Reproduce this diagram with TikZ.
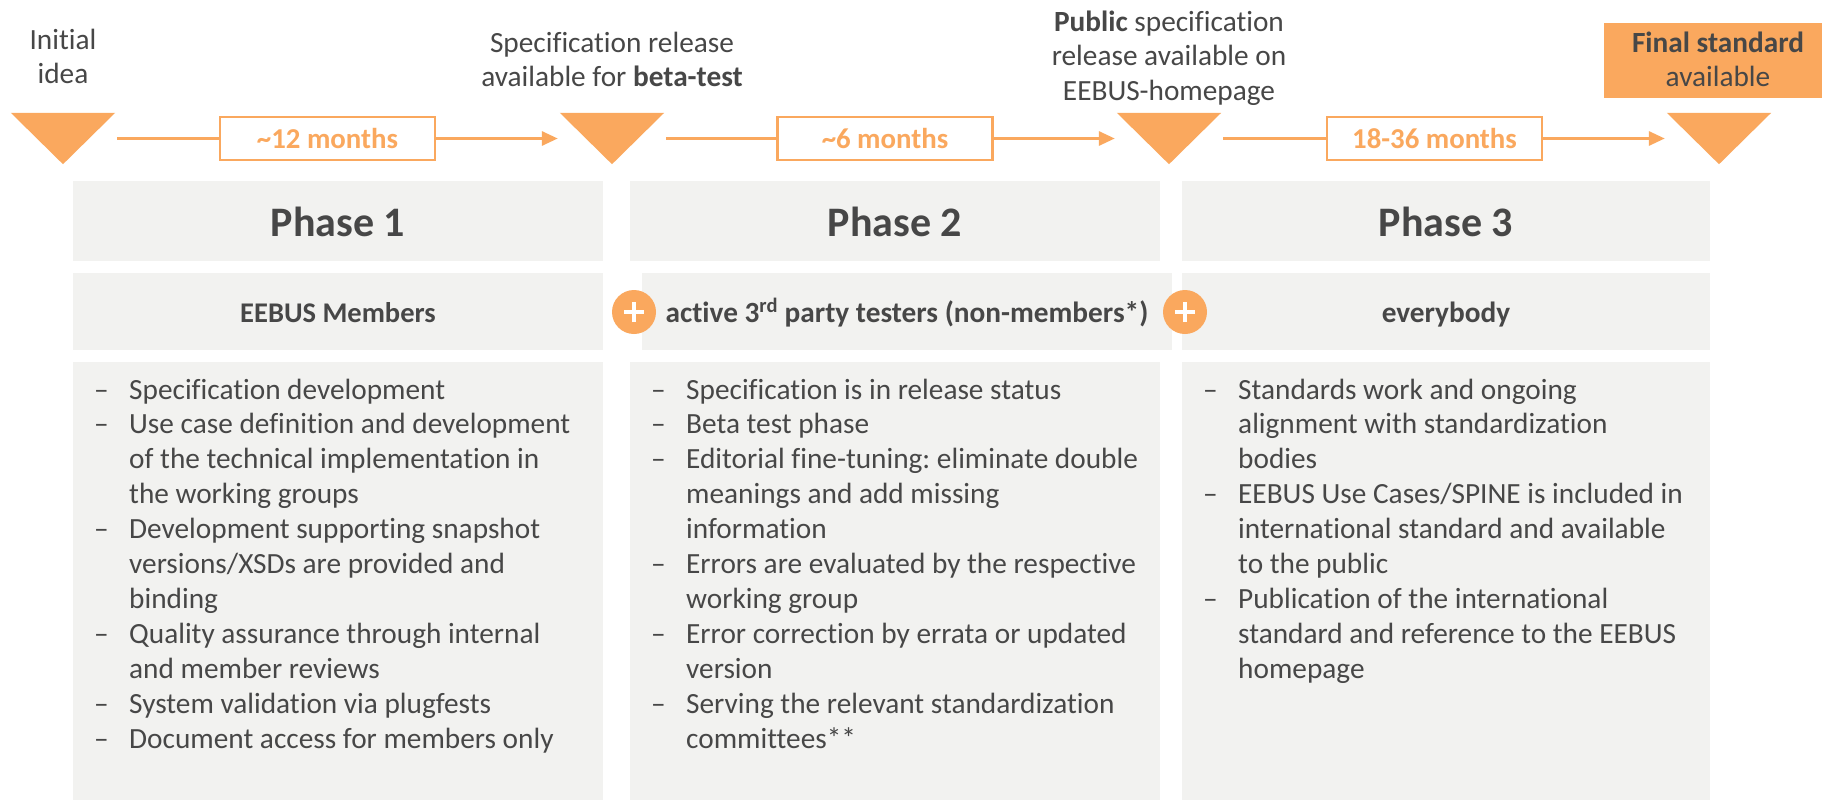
\documentclass[tikz,border=0pt]{standalone}
\usepackage{fontspec}
\setmainfont{Carlito}[Ligatures={NoCommon}]
\usetikzlibrary{arrows.meta}
\definecolor{eeorange}{HTML}{FAA85E}
\definecolor{eegray}{HTML}{F2F2F0}
\definecolor{eetext}{HTML}{474747}
\frenchspacing
\newcommand\bodyfont{\fontsize{29.3}{34.9}\selectfont}
\newcommand\itm[1]{\makebox[35pt][l]{–}#1}
\newcommand\cnt[1]{\hspace*{35pt}#1}
\newcommand\toplbl[1]{\parbox[t]{360pt}{\centering\bodyfont #1}}
\newcommand\blist[1]{\parbox[t]{540pt}{\raggedright\bodyfont #1}}
\begin{document}
\begin{tikzpicture}[x=1pt,y=-1pt,
  trib/.style={minimum width=104pt, minimum height=51pt, inner sep=0pt},
  arr/.style={draw=eeorange, line width=3pt, -{Triangle[length=16pt,width=14pt]}, shorten <=2pt, shorten >=2pt},
  mbox/.style={draw=eeorange, line width=2.5pt, fill=white, minimum width=215pt, minimum height=43pt, inner sep=0pt, text=eeorange, font=\fontsize{28.8}{34}\selectfont\bfseries},
  gbox/.style={fill=eegray, inner sep=0pt},
  txt/.style={inner sep=0pt, text=eetext, anchor=base},
  plus/.style={circle, fill=eeorange, minimum size=44pt, inner sep=0pt},
  head/.style={txt, font=\fontsize{42}{50}\selectfont\bfseries},
  sub/.style={txt, font=\fontsize{29.3}{34}\selectfont\bfseries}
]
\fill[white] (0,0) rectangle (1822,803);
\useasboundingbox (0,0) rectangle (1822,803);

% triangles (milestones)
\node[trib] (t1) at (63,138.5) {};
\node[trib] (t2) at (612,138.5) {};
\node[trib] (t3) at (1169,138.5) {};
\node[trib] (t4) at (1719,138.5) {};
\foreach \t in {t1,t2,t3,t4}
  \fill[eeorange] (\t.north west) -- (\t.north east) -- (\t.south) -- cycle;

% arrows
\draw[arr] (t1) -- (t2);
\draw[arr] (t2) -- (t3);
\draw[arr] (t3) -- (t4);

% month boxes
\node[mbox] (m1) at (327.5,138.5) {\textasciitilde 12 months};
\node[mbox] (m2) at (885,138.5) {\textasciitilde 6 months};
\node[mbox] (m3) at (1434.5,138.5) {18-36 months};

% top labels
\node[txt] (l1) at (63,49) {\toplbl{Initial\\idea}};
\node[txt] (l2) at (612,52) {\toplbl{Specification release\\available for \textbf{beta-test}}};
\node[txt] (l3) at (1169,31) {\toplbl{\textbf{Public} specification\\release available on\\EEBUS-homepage}};
\node[fill=eeorange, minimum width=218pt, minimum height=75pt, inner sep=0pt] (fbox) at (1713,60.5) {};
\node[txt] (l4) at (1718,52) {\toplbl{\textbf{Final standard}\\available}};

% phase header boxes
\node[gbox, minimum width=530pt, minimum height=80pt] (p1) at (338,221) {};
\node[gbox, minimum width=530pt, minimum height=80pt] (p2) at (895,221) {};
\node[gbox, minimum width=528pt, minimum height=80pt] (p3) at (1446,221) {};
\node[head] (h1) at (338,236) {Phase 1};
\node[head] (h2) at (895,236) {Phase 2};
\node[head] (h3) at (1446,236) {Phase 3};

% audience boxes
\node[gbox, minimum width=530pt, minimum height=77pt] (a1) at (338,311.5) {};
\node[gbox, minimum width=530pt, minimum height=77pt] (a2) at (907,311.5) {};
\node[gbox, minimum width=528pt, minimum height=77pt] (a3) at (1446,311.5) {};
\node[sub, font=\fontsize{28.5}{34}\selectfont\bfseries] (s1) at (338,322) {EEBUS Members};
\node[sub] (s2) at (907,322) {active 3\textsuperscript{rd} party testers (non-members*)};
\node[sub] (s3) at (1446,322) {everybody};

% plus circles
\node[plus] (c1) at (634,312) {};
\node[plus] (c2) at (1185,312) {};
\foreach \c in {c1,c2}{
  \draw[white, line width=4pt] ([xshift=-10pt]\c.center) -- ([xshift=10pt]\c.center);
  \draw[white, line width=4pt] ([yshift=-10pt]\c.center) -- ([yshift=10pt]\c.center);
}

% content boxes
\node[gbox, minimum width=530pt, minimum height=438pt] (b1) at (338,581) {};
\node[gbox, minimum width=530pt, minimum height=438pt] (b2) at (895,581) {};
\node[gbox, minimum width=528pt, minimum height=438pt] (b3) at (1446,581) {};

\node[txt, anchor=base west] (x1) at (94,399) {\blist{%
\itm{Specification development}\\
\itm{Use case definition and development}\\
\cnt{of the technical implementation in}\\
\cnt{the working groups}\\
\itm{Development supporting snapshot}\\
\cnt{versions/XSDs are provided and}\\
\cnt{binding}\\
\itm{Quality assurance through internal}\\
\cnt{and member reviews}\\
\itm{System validation via plugfests}\\
\itm{Document access for members only}}};

\node[txt, anchor=base west] (x2) at (651,399) {\blist{%
\itm{Specification is in release status}\\
\itm{Beta test phase}\\
\itm{Editorial fine-tuning: eliminate double}\\
\cnt{meanings and add missing}\\
\cnt{information}\\
\itm{Errors are evaluated by the respective}\\
\cnt{working group}\\
\itm{Error correction by errata or updated}\\
\cnt{version}\\
\itm{Serving the relevant standardization}\\
\cnt{committees**}}};

\node[txt, anchor=base west] (x3) at (1203,399) {\blist{%
\itm{Standards work and ongoing}\\
\cnt{alignment with standardization}\\
\cnt{bodies}\\
\itm{EEBUS Use Cases/SPINE is included in}\\
\cnt{international standard and available}\\
\cnt{to the public}\\
\itm{Publication of the international}\\
\cnt{standard and reference to the EEBUS}\\
\cnt{homepage}}};
\end{tikzpicture}
\end{document}
